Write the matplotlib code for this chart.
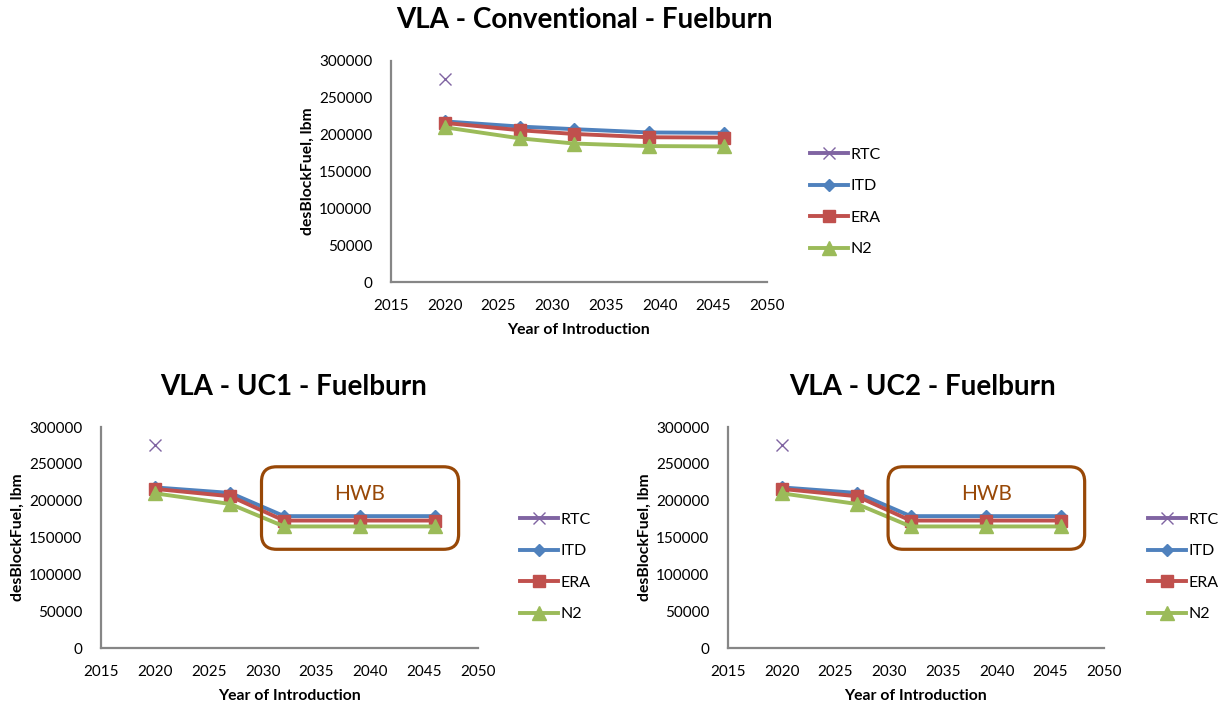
import matplotlib
matplotlib.use("Agg")
import matplotlib.pyplot as plt
from matplotlib.patches import FancyBboxPatch

plt.rcParams["font.family"] = ["Lato", "DejaVu Sans"]

# Year of introduction for each technology level
years_rtc = [2020]
years = [2020, 2027, 2032, 2039, 2046]

# Design block fuel (lbm)
rtc = [275000]

conv_itd = [218000, 211000, 207500, 203000, 202500]
conv_era = [216000, 206000, 201000, 196500, 196000]
conv_n2 = [210000, 195000, 188000, 184500, 184000]

uc1_itd = [218000, 210500, 179000, 179000, 179000]
uc1_era = [216000, 206000, 173000, 173000, 173000]
uc1_n2 = [210000, 195500, 165000, 165000, 165000]

uc2_itd = [218000, 210500, 179000, 179000, 179000]
uc2_era = [216000, 206000, 173000, 173000, 173000]
uc2_n2 = [210000, 195500, 165000, 165000, 165000]

series_names = ["RTC", "ITD", "ERA", "N2"]
x_ticks = [2015, 2020, 2025, 2030, 2035, 2040, 2045, 2050]
y_ticks = [0, 50000, 100000, 150000, 200000, 250000, 300000]

# HWB configuration region (year span, fuel span)
hwb_years = (2029.9, 2048.2)
hwb_fuel = (134000, 246000)

C_RTC = "#8064A2"
C_ITD = "#4F81BD"
C_ERA = "#C0504D"
C_N2 = "#9BBB59"
C_HWB = "#984807"
C_AXIS = "#868686"

W, H = 1225, 707
fig = plt.figure(figsize=(W / 100, H / 100), dpi=100)


def px_axes(left, top, right, bottom):
    return fig.add_axes([left / W, 1 - bottom / H, (right - left) / W, (bottom - top) / H])


def draw(ax, itd, era, n2, title, title_x, title_y, legend_x, legend_y, ylab_x, xlab_y, hwb=False):
    lw = 2.8
    ax.plot(years_rtc, rtc, color=C_RTC, marker="x", markersize=9, markeredgewidth=1.0,
            linewidth=lw, linestyle="-", label=series_names[0])
    ax.plot(years, itd, color=C_ITD, marker="D", markersize=6.5, linewidth=lw, label=series_names[1])
    ax.plot(years, era, color=C_ERA, marker="s", markersize=8.5, linewidth=lw, label=series_names[2])
    ax.plot(years, n2, color=C_N2, marker="^", markersize=9.5, linewidth=lw, label=series_names[3])

    ax.set_xlim(2015, 2050)
    ax.set_ylim(0, 300000)
    ax.set_xticks(x_ticks)
    ax.set_yticks(y_ticks)
    ax.set_xticklabels([str(t) for t in x_ticks])
    ax.set_yticklabels([str(t) for t in y_ticks])
    ax.tick_params(length=0, labelsize=11, colors="black")
    ax.tick_params(axis="x", pad=12.5)
    ax.tick_params(axis="y", pad=13.5)
    for s in ["top", "right"]:
        ax.spines[s].set_visible(False)
    for s in ["left", "bottom"]:
        ax.spines[s].set_color(C_AXIS)
        ax.spines[s].set_linewidth(1.6)
    ax.patch.set_alpha(0)

    bb = ax.get_position()
    fig.text(title_x / W, 1 - title_y / H, title, ha="center", va="center",
             fontsize=20, fontweight="bold")
    fig.text(ylab_x / W, bb.y0 + bb.height / 2, "desBlockFuel, lbm", rotation=90,
             ha="center", va="center", fontsize=11.3, fontweight="bold")
    fig.text(bb.x0 + bb.width / 2, 1 - xlab_y / H, "Year of Introduction",
             ha="center", va="center", fontsize=11.3, fontweight="bold")

    handles, labels = ax.get_legend_handles_labels()
    fig.legend(handles, labels, loc="center left",
               bbox_to_anchor=(legend_x / W, 1 - legend_y / H), frameon=False,
               fontsize=11.5, handlelength=2.4, handletextpad=0.15, labelspacing=1.08,
               borderpad=0, borderaxespad=0)

    if hwb:
        x_per_px = 35 / (bb.width * W)
        y_per_px = 300000 / (bb.height * H)
        aspect = y_per_px / x_per_px
        box = FancyBboxPatch((hwb_years[0], hwb_fuel[0]), hwb_years[1] - hwb_years[0],
                             hwb_fuel[1] - hwb_fuel[0],
                             boxstyle="round,pad=0,rounding_size=%f" % (15 * x_per_px),
                             mutation_aspect=aspect, facecolor="none", edgecolor=C_HWB,
                             linewidth=2.3, transform=ax.transData, clip_on=False, zorder=5)
        ax.add_patch(box)
        ax.text((hwb_years[0] + hwb_years[1]) / 2, 209000, "HWB", color=C_HWB,
                ha="center", va="center", fontsize=15, zorder=6)


ax_top = px_axes(391, 61, 767, 282)
draw(ax_top, conv_itd, conv_era, conv_n2, "VLA - Conventional - Fuelburn",
     584, 20, 810, 202, 308, 330)

ax_l = px_axes(101, 427, 478, 648)
draw(ax_l, uc1_itd, uc1_era, uc1_n2, "VLA - UC1 - Fuelburn",
     294, 387, 520, 567, 18, 696, hwb=True)

ax_r = px_axes(728, 427, 1104, 648)
draw(ax_r, uc2_itd, uc2_era, uc2_n2, "VLA - UC2 - Fuelburn",
     922, 387, 1148, 567, 645, 696, hwb=True)

fig.savefig("out.png", dpi=100)
